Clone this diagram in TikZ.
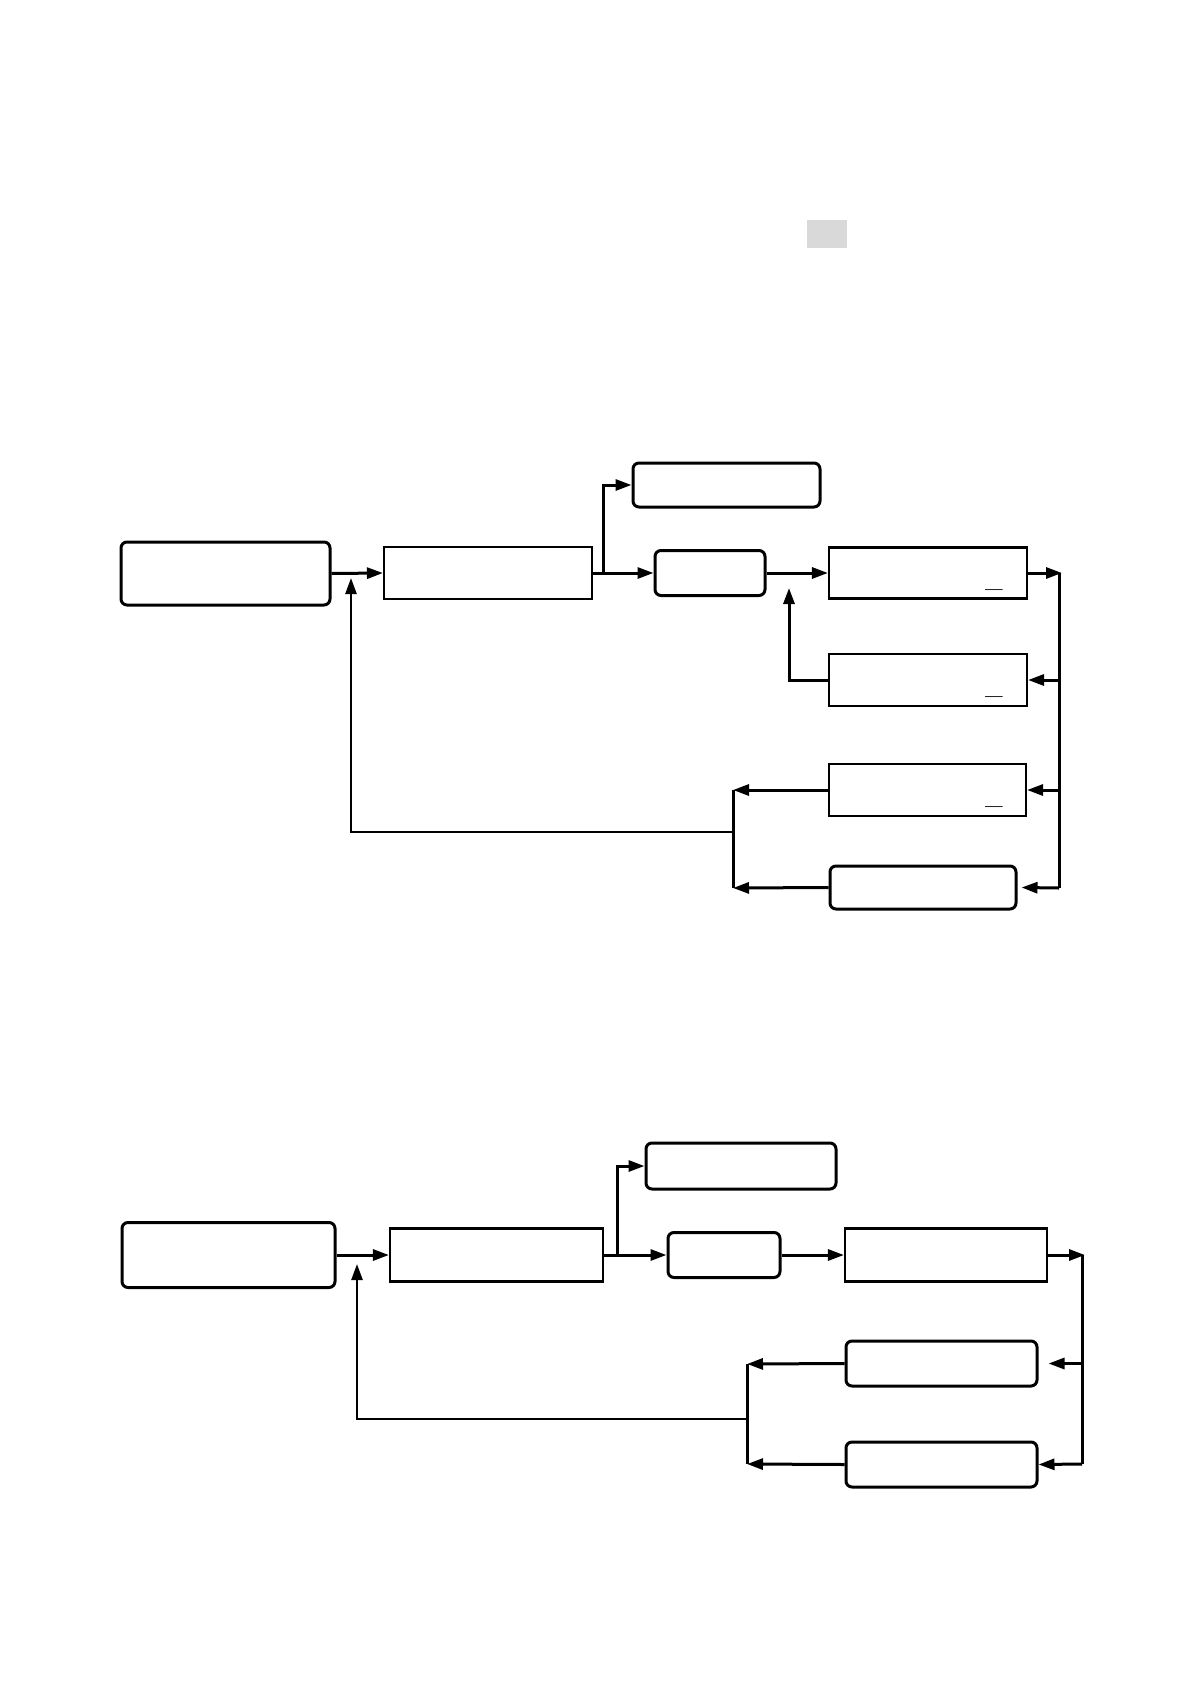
\documentclass[tikz,border=0pt]{standalone}
\usetikzlibrary{arrows.meta,calc,positioning}
\definecolor{flowInk}{HTML}{000000}
\definecolor{flowMark}{HTML}{D9D9D9}

\begin{document}
\begin{tikzpicture}[x=1pt,y=-1pt,>={Triangle[length=16pt,width=11pt]},line join=miter]
\path[fill=white] (0,0) rectangle (1190,1684);
\path[fill=flowMark] (807,220) rectangle (847,248);
\tikzset{wire/.style={draw=flowInk,line width=3pt},thinwire/.style={draw=flowInk,line width=2.5pt},sbox/.style={draw=flowInk,line width=2.1pt,inner sep=0pt},rbox/.style={draw=flowInk,line width=3pt,rounded corners=6pt,inner sep=0pt},tick/.style={inner sep=0pt,font=\bfseries\huge}}
% upper chart
\node[rbox,minimum width=209pt,minimum height=63pt] (srcOne) at (225.5,573.5) {};
\node[sbox,minimum width=208pt,minimum height=52pt] (procOne) at (488,573) {};
\node[rbox,minimum width=187pt,minimum height=44pt] (sideOne) at (726.5,485) {};
\node[rbox,minimum width=110pt,minimum height=45pt] (gateOne) at (710,573) {};
\node[sbox,minimum width=198pt,minimum height=51pt] (stepOne) at (928,573) {};
\node[sbox,minimum width=198pt,minimum height=52pt] (backOne) at (928,680) {};
\node[sbox,minimum width=197pt,minimum height=52pt] (retOne) at (927.5,790) {};
\node[rbox,minimum width=186pt,minimum height=43pt] (endOne) at (923,887.5) {};
\node[tick] (tickA) at (994,589) {\_}; \node[tick] (tickB) at (994,696) {\_}; \node[tick] (tickC) at (994,806) {\_};
\coordinate (busTopOne) at (1062,573); \coordinate (busBotOne) at (1059,888);
\coordinate (loopOne) at (789,588); \coordinate (joinTopOne) at (733,790); \coordinate (joinBotOne) at (733,888);
\coordinate (fbOne) at (733,832); \coordinate (fbTipOne) at (351,578);
\draw[wire,->] (srcOne.east) -- (procOne.west);
\draw[wire,->] (procOne.east) -- (gateOne.west);
\draw[wire,->] (procOne.east) -- ++(10,0) |- (sideOne.west);
\draw[wire,->] (gateOne.east) -- (stepOne.west);
\draw[wire,->] (stepOne.east) -- (busTopOne);
\draw[wire] (busTopOne -| busBotOne) -- (busBotOne);
\draw[wire,->] (busBotOne |- backOne.east) -- (backOne.east);
\draw[wire,->] (busBotOne |- retOne.east) -- (retOne.east);
\draw[wire,->] (busBotOne) -- ([xshift=4pt]endOne.east);
\draw[wire,->] (backOne.west) -| (loopOne);
\draw[wire,->] (retOne.west) -- (joinTopOne);
\draw[wire,->] (endOne.west) -- (joinBotOne);
\draw[wire] (joinTopOne) -- (joinBotOne);
\draw[thinwire,->] (fbOne) -| (fbTipOne);
% lower chart
\node[rbox,minimum width=213pt,minimum height=65pt] (srcTwo) at (228.5,1255) {};
\node[sbox,minimum width=213pt,minimum height=53pt] (procTwo) at (496.5,1255) {};
\node[rbox,minimum width=190pt,minimum height=46pt] (sideTwo) at (741,1166) {};
\node[rbox,minimum width=112pt,minimum height=45pt] (gateTwo) at (724,1255) {};
\node[sbox,minimum width=202pt,minimum height=53pt] (stepTwo) at (946,1255) {};
\node[rbox,minimum width=191pt,minimum height=45pt] (backTwo) at (941.5,1363.5) {};
\node[rbox,minimum width=191pt,minimum height=45pt] (endTwo) at (941.5,1464.5) {};
\coordinate (busTopTwo) at (1085,1255); \coordinate (busBotTwo) at (1082,1464);
\coordinate (joinTopTwo) at (747,1364); \coordinate (joinBotTwo) at (747,1464);
\coordinate (fbTwo) at (747,1419); \coordinate (fbTipTwo) at (357,1264);
\draw[wire,->] (srcTwo.east) -- (procTwo.west);
\draw[wire,->] (procTwo.east) -- (gateTwo.west);
\draw[wire,->] (procTwo.east) -- ++(13,0) |- (sideTwo.west);
\draw[wire,->] (gateTwo.east) -- (stepTwo.west);
\draw[wire,->] (stepTwo.east) -- (busTopTwo);
\draw[wire] (busTopTwo -| busBotTwo) -- (busBotTwo);
\draw[wire,->,shorten >=10pt] (busBotTwo |- backTwo.east) -- (backTwo.east);
\draw[wire,->] (busBotTwo) -- (endTwo.east);
\draw[wire,->] (backTwo.west) -- (joinTopTwo);
\draw[wire,->] (endTwo.west) -- (joinBotTwo);
\draw[wire] (joinTopTwo) -- (joinBotTwo);
\draw[thinwire,->] (fbTwo) -| (fbTipTwo);
\end{tikzpicture}
\end{document}
